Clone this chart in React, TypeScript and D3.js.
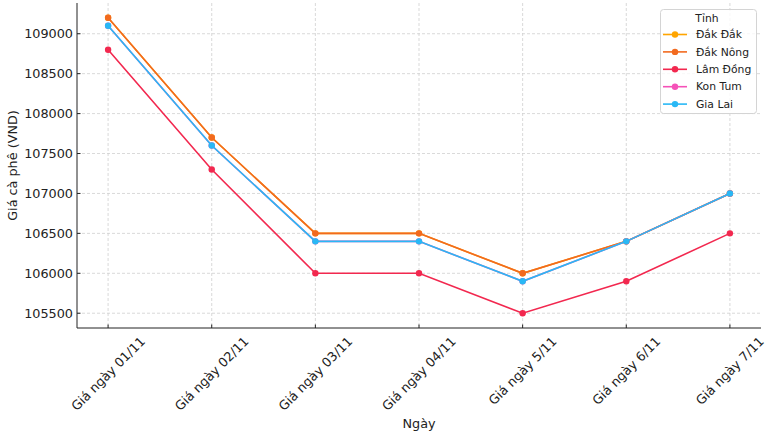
import React, { useEffect, useRef } from 'react';
import * as d3 from 'd3';

// chart data
const days = ['Giá ngày 01/11', 'Giá ngày 02/11', 'Giá ngày 03/11', 'Giá ngày 04/11', 'Giá ngày 5/11', 'Giá ngày 6/11', 'Giá ngày 7/11'];
const provinces = ['Đắk Đắk', 'Đắk Nông', 'Lâm Đồng', 'Kon Tum', 'Gia Lai'];
const dakDak = [109200, 107700, 106500, 106500, 106000, 106400, 107000];
const dakNong = [109200, 107700, 106500, 106500, 106000, 106400, 107000];
const lamDong = [108800, 107300, 106000, 106000, 105500, 105900, 106500];
const konTum = [109100, 107600, 106400, 106400, 105900, 106400, 107000];
const giaLai = [109100, 107600, 106400, 106400, 105900, 106400, 107000];
const yTicks = [105500, 106000, 106500, 107000, 107500, 108000, 108500, 109000];
const colors = ['#ffa500', '#f26a1f', '#f2284f', '#f552b8', '#29b8f5'];

const W = 770;
const H = 436;
const FONT = 'DejaVu Sans, sans-serif';

const App: React.FC = () => {
  const ref = useRef<SVGSVGElement>(null);

  useEffect(() => {
    document.body.style.margin = '0';
    const svg = d3.select(ref.current);
    svg.selectAll('*').remove();

    const left = 77, right = 761, top = 3, bottom = 328;
    const series = [dakDak, dakNong, lamDong, konTum, giaLai];

    // matplotlib-like 5% margins
    const x = d3.scaleLinear().domain([-0.3, days.length - 1 + 0.3]).range([left, right]);
    const y = d3.scaleLinear().domain([105315, 109385]).range([bottom, top]);

    // grid
    const grid = svg.append('g');
    days.forEach((_, i) => {
      grid.append('line')
        .attr('x1', x(i)).attr('x2', x(i)).attr('y1', top).attr('y2', bottom)
        .attr('stroke', '#cfcfcf').attr('stroke-width', 0.8).attr('stroke-dasharray', '3,2');
    });
    yTicks.forEach(t => {
      grid.append('line')
        .attr('x1', left).attr('x2', right).attr('y1', y(t)).attr('y2', y(t))
        .attr('stroke', '#cfcfcf').attr('stroke-width', 0.8).attr('stroke-dasharray', '3,2');
    });

    // lines + markers
    const line = d3.line<number>().x((_, i) => x(i)).y(d => y(d));
    series.forEach((vals, s) => {
      const g = svg.append('g');
      g.append('path').datum(vals).attr('d', line).attr('fill', 'none')
        .attr('stroke', colors[s]).attr('stroke-width', 1.6);
      g.selectAll('circle').data(vals).enter().append('circle')
        .attr('cx', (_, i) => x(i)).attr('cy', d => y(d)).attr('r', 3.2)
        .attr('fill', colors[s]);
    });

    // spines
    svg.append('line').attr('x1', left).attr('x2', left).attr('y1', top).attr('y2', bottom)
      .attr('stroke', '#222').attr('stroke-width', 1);
    svg.append('line').attr('x1', left).attr('x2', right).attr('y1', bottom).attr('y2', bottom)
      .attr('stroke', '#222').attr('stroke-width', 1);

    // y ticks
    yTicks.forEach(t => {
      svg.append('line').attr('x1', left).attr('x2', left + 3.5).attr('y1', y(t)).attr('y2', y(t))
        .attr('stroke', '#222');
      svg.append('text').attr('x', left - 4).attr('y', y(t)).attr('dy', '0.35em')
        .attr('text-anchor', 'end').attr('font-family', FONT).attr('font-size', 12.8)
        .attr('fill', '#222').text(t);
    });

    // x ticks, rotated 45 degrees, centered like matplotlib
    days.forEach((d, i) => {
      svg.append('line').attr('x1', x(i)).attr('x2', x(i)).attr('y1', bottom).attr('y2', bottom - 3.5)
        .attr('stroke', '#222');
      const t = svg.append('text').attr('font-family', FONT).attr('font-size', 12.8)
        .attr('fill', '#222').attr('text-anchor', 'middle').attr('dominant-baseline', 'central').text(d);
      const w = (t.node() as SVGTextElement).getComputedTextLength();
      const h = 14;
      const bh = (w + h) * Math.SQRT1_2;
      t.attr('transform', `translate(${x(i)},${bottom + 6 + bh / 2}) rotate(-45)`);
    });

    // axis labels
    svg.append('text').attr('x', (left + right) / 2).attr('y', 428).attr('text-anchor', 'middle')
      .attr('font-family', FONT).attr('font-size', 12.8).attr('fill', '#222').text('Ngày');
    svg.append('text').attr('transform', `translate(17,${(top + bottom) / 2}) rotate(-90)`)
      .attr('text-anchor', 'middle').attr('font-family', FONT).attr('font-size', 12.8)
      .attr('fill', '#222').text('Giá cà phê (VND)');

    // legend
    const lg = svg.append('g');
    lg.append('rect').attr('x', 660.5).attr('y', 9.5).attr('width', 96).attr('height', 104).attr('rx', 3)
      .attr('fill', 'white').attr('fill-opacity', 0.8).attr('stroke', '#d4d4d4');
    lg.append('text').attr('x', 707).attr('y', 18).attr('dy', '0.35em').attr('text-anchor', 'middle')
      .attr('font-family', FONT).attr('font-size', 10.8).attr('fill', '#222').text('Tỉnh');
    provinces.forEach((p, i) => {
      const yy = 34.5 + i * 17.4;
      lg.append('line').attr('x1', 663).attr('x2', 687).attr('y1', yy).attr('y2', yy)
        .attr('stroke', colors[i]).attr('stroke-width', 1.6);
      lg.append('circle').attr('cx', 675).attr('cy', yy).attr('r', 3.2).attr('fill', colors[i]);
      lg.append('text').attr('x', 696).attr('y', yy).attr('dy', '0.35em')
        .attr('font-family', FONT).attr('font-size', 10.8).attr('fill', '#222').text(p);
    });
  }, []);

  return <svg ref={ref} width={W} height={H} style={{ display: 'block', background: 'white' }} />;
};

export default App;
